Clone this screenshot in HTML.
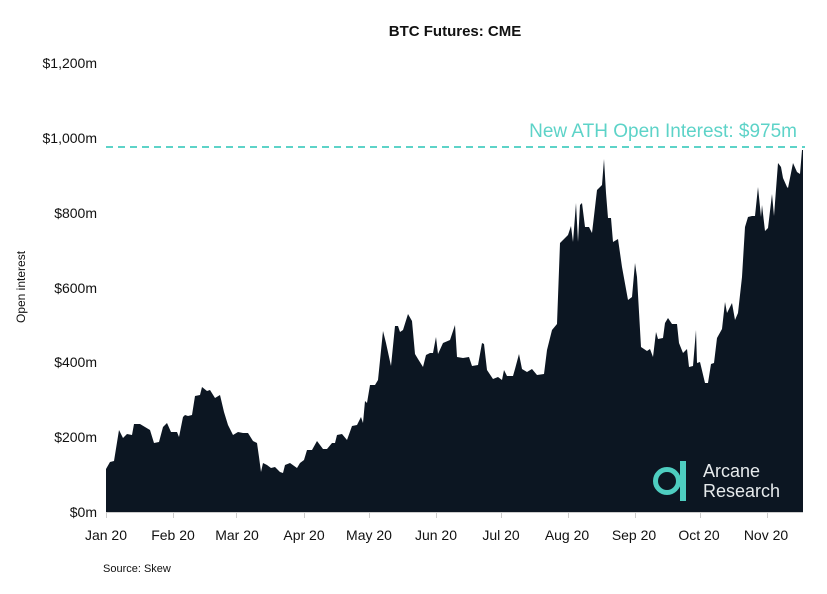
<!DOCTYPE html>
<html><head><meta charset="utf-8"><style>
body{margin:0;background:#fff;}
svg text{font-family:"Liberation Sans",sans-serif;}
</style></head><body>
<svg width="827" height="589" viewBox="0 0 827 589" xmlns="http://www.w3.org/2000/svg">
<rect width="827" height="589" fill="#fff"/>
<text x="455" y="36" text-anchor="middle" font-size="15" font-weight="bold" fill="#111">BTC Futures: CME</text>
<g font-size="14" fill="#111" text-anchor="end">
<text x="97" y="68">$1,200m</text>
<text x="97" y="143">$1,000m</text>
<text x="97" y="218">$800m</text>
<text x="97" y="293">$600m</text>
<text x="97" y="367">$400m</text>
<text x="97" y="442">$200m</text>
<text x="97" y="517">$0m</text>
</g>
<text transform="translate(25,287) rotate(-90)" text-anchor="middle" font-size="12" fill="#111">Open interest</text>
<polygon fill="#0c1622" points="106,512 106,469 110,462 114,461 119,430 123,438 127,434 132,435 134,424 140,424 150,430 154,443 159,442 163,427 167,423 171,432 177,432 179,437 183,417 185,415 188,416 192,415 195,396 200,395 202,387 207,391 210,390 215,398 220,395 224,412 228,425 233,435 238,432 243,433 248,433 253,441 257,443 259,457 261,472 263,463 267,465 271,468 275,467 280,472 283,473 285,465 290,463 297,468 300,463 304,460 307,450 312,450 317,441 323,449 327,449 332,443 335,443 337,435 342,434 347,440 352,426 357,425 361,417 363,423 365,401 367,403 370,385 375,385 378,380 383,331 386,343 391,366 395,326 398,326 400,332 403,330 408,314 412,321 415,354 418,359 423,367 426,355 430,353 433,353 436,337 438,354 443,343 450,340 455,325 457,357 463,358 469,357 472,366 478,365 482,343 484,344 487,370 493,379 498,377 502,380 504,370 507,376 513,376 515,369 519,354 522,369 527,372 532,369 537,375 544,374 547,350 552,330 557,324 560,243 563,240 568,235 571,226 573,242 576,203 578,242 580,205 582,203 585,227 589,227 592,233 594,216 597,190 602,185 604,159 606,193 608,218 611,218 613,242 618,239 622,267 628,300 632,297 635,263 637,277 641,347 647,351 650,349 653,357 656,332 658,339 663,338 665,323 668,318 672,324 677,324 679,343 683,353 687,349 689,367 693,366 696,330 697,363 700,362 705,383 708,383 711,364 714,363 717,338 722,329 725,302 727,313 732,303 735,320 738,313 742,277 745,227 748,217 752,216 755,216 758,187 761,217 762,205 765,231 768,228 772,194 774,216 778,163 781,167 783,178 787,187 788,188 793,163 797,172 800,174 802,150 803,150 803,512"/>
<line x1="106" y1="147" x2="805" y2="147" stroke="#5dd3c8" stroke-width="2" stroke-dasharray="7,5"/>
<text x="797" y="137" text-anchor="end" font-size="19" fill="#5dd3c8">New ATH Open Interest: $975m</text>
<line x1="106" y1="512.5" x2="803" y2="512.5" stroke="#ccc" stroke-width="1"/>
<g stroke="#ccc">
<line x1="106.5" y1="512" x2="106.5" y2="518"/><line x1="173.5" y1="512" x2="173.5" y2="518"/><line x1="236.5" y1="512" x2="236.5" y2="518"/><line x1="304.5" y1="512" x2="304.5" y2="518"/><line x1="369.5" y1="512" x2="369.5" y2="518"/><line x1="436.5" y1="512" x2="436.5" y2="518"/><line x1="501.5" y1="512" x2="501.5" y2="518"/><line x1="568.5" y1="512" x2="568.5" y2="518"/><line x1="635.5" y1="512" x2="635.5" y2="518"/><line x1="700.5" y1="512" x2="700.5" y2="518"/><line x1="767.5" y1="512" x2="767.5" y2="518"/>
</g>
<g font-size="14" fill="#111" text-anchor="middle">
<text x="106" y="540">Jan 20</text><text x="173" y="540">Feb 20</text><text x="237" y="540">Mar 20</text><text x="304" y="540">Apr 20</text><text x="369" y="540">May 20</text><text x="436" y="540">Jun 20</text><text x="501" y="540">Jul 20</text><text x="567" y="540">Aug 20</text><text x="634" y="540">Sep 20</text><text x="699" y="540">Oct 20</text><text x="766" y="540">Nov 20</text>
</g>
<text x="103" y="572" font-size="11" fill="#111">Source: Skew</text>
<circle cx="667" cy="481" r="11.5" fill="none" stroke="#4ecdc0" stroke-width="5"/>
<rect x="680" y="461" width="6" height="40" fill="#4ecdc0"/>
<text x="703" y="477" font-size="18" fill="#e6eaec">Arcane</text>
<text x="703" y="497" font-size="18" fill="#e6eaec">Research</text>
</svg>
</body></html>
